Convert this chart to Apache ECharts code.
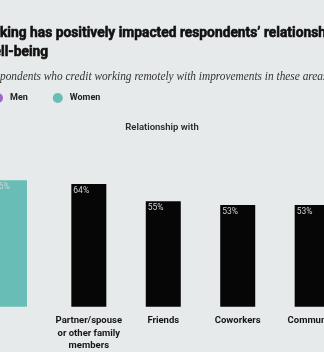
<!DOCTYPE html>
<html>
<head>
<meta charset="utf-8">
<script src="https://cdn.jsdelivr.net/npm/echarts@6/dist/echarts.min.js"></script>
<style>
  html, body { margin: 0; padding: 0; background: #e7eaea; }
  #chart { width: 324px; height: 352px; }
</style>
</head>
<body>
<div id="chart"></div>
<script>
// Well-being panel (men vs women)
const wellbeingCats = ['Mental well-being'];
const menValues = [58];
const womenValues = [66];

// Relationship panel
const relationCats = ['Partner/spouse\nor other family\nmembers', 'Friends', 'Coworkers', 'Community'];
const relationValues = [64, 55, 53, 53];

const titleLines = [
  "Remote working has positively impacted respondents\u2019 relationships and",
  "mental well-being"
];
const subtitleText = 'Share of respondents who credit working remotely with improvements in these areas';
const panelTitle = 'Relationship with';

const SANS = 'Roboto, "Liberation Sans", sans-serif';
const SERIF = '"Liberation Serif", "DejaVu Serif", serif';

// text measuring, used to condense the headline and place it against the left edge
const ctx = document.createElement('canvas').getContext('2d');
function textWidth(str, font) { ctx.font = font; return ctx.measureText(str).width; }

const titleFont = 'bold 14.5px ' + SANS;
const titleScale = 326 / textWidth("king has positively impacted respondents\u2019 relationsh", titleFont);
const titleX1 = -textWidth('Remote wor', titleFont) * titleScale;
const titleX2 = 1 - textWidth('mental we', titleFont) * titleScale;

const subFont = 'italic 12.5px ' + SERIF;
const subScale = 323 / textWidth('pondents who credit working remotely with improvements in these area', subFont);
const subX = -textWidth('Share of res', subFont) * subScale;

const chart = echarts.init(document.getElementById('chart'), null, { renderer: 'canvas' });

const labelStyle = {
  show: true,
  position: 'insideTopLeft',
  distance: 2,
  formatter: '{c}%',
  color: '#d2d2d2',
  fontFamily: SANS,
  fontSize: 8.5
};

const headStyle = { font: titleFont, fill: '#111', stroke: '#111', lineWidth: 0.6, verticalAlign: 'top' };

chart.setOption({
  backgroundColor: '#e7eaea',
  animation: false,
  legend: {
    data: ['Men', 'Women'],
    left: -7,
    top: 93,
    padding: 0,
    icon: 'circle',
    itemWidth: 10,
    itemHeight: 10,
    itemGap: 25,
    textStyle: { fontFamily: SANS, fontWeight: 'bold', fontSize: 9, color: '#222', padding: [0, 0, 0, 2] }
  },
  graphic: [
    { type: 'text', x: titleX1, y: 25.5, scaleX: titleScale, style: Object.assign({ text: titleLines[0] }, headStyle) },
    { type: 'text', x: titleX2, y: 45, scaleX: titleScale, style: Object.assign({ text: titleLines[1] }, headStyle) },
    { type: 'text', x: subX, y: 70, scaleX: subScale, style: { text: subtitleText, font: subFont, fill: '#333', verticalAlign: 'top' } },
    { type: 'text', x: 162, y: 127.5, style: { text: panelTitle, font: '600 9.5px ' + SANS, fill: '#2a2a2a', align: 'center', verticalAlign: 'middle' } }
  ],
  grid: [
    { left: -51.5, width: 80, top: 115, height: 191.7, outerBoundsMode: 'none' },
    { left: 51.6, width: 297.8, top: 115, height: 191.7, outerBoundsMode: 'none' }
  ],
  xAxis: [
    { type: 'category', gridIndex: 0, data: wellbeingCats, axisLine: { show: false }, axisTick: { show: false }, axisLabel: { show: false } },
    {
      type: 'category', gridIndex: 1, data: relationCats,
      axisLine: { show: false }, axisTick: { show: false },
      axisLabel: { margin: 8, interval: 0, color: '#161616', fontFamily: SANS, fontWeight: 'bold', fontSize: 9.5, lineHeight: 12.5 }
    }
  ],
  yAxis: [
    { type: 'value', gridIndex: 0, min: 0, max: 100, show: false },
    { type: 'value', gridIndex: 1, min: 0, max: 100, show: false }
  ],
  series: [
    { name: 'Men', type: 'bar', xAxisIndex: 0, yAxisIndex: 0, data: menValues, barWidth: 35, barGap: '20%', itemStyle: { color: '#a463c8' }, label: labelStyle },
    { name: 'Women', type: 'bar', xAxisIndex: 0, yAxisIndex: 0, data: womenValues, barWidth: 35, barGap: '20%', itemStyle: { color: '#68beb6' }, label: labelStyle },
    { name: 'All respondents', type: 'bar', xAxisIndex: 1, yAxisIndex: 1, data: relationValues, barWidth: 35, itemStyle: { color: '#060606' }, label: labelStyle }
  ]
});
</script>
</body>
</html>
